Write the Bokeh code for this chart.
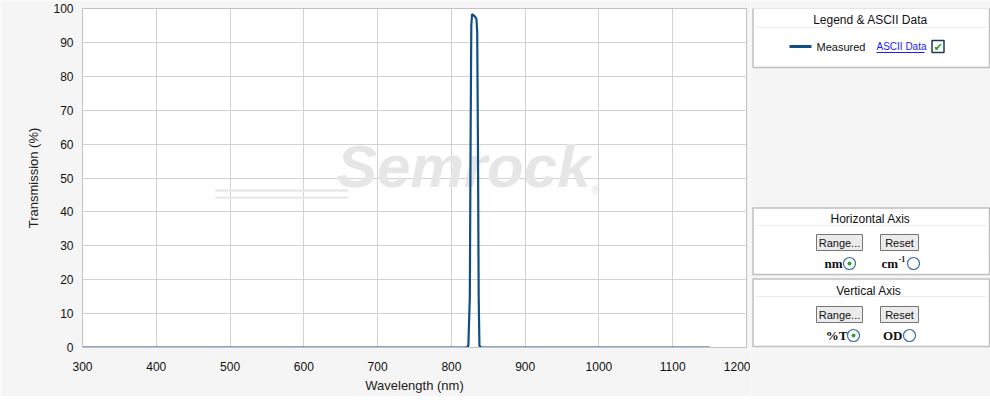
from bokeh.plotting import figure
from bokeh.models import Range1d, FixedTicker, Label, BoxAnnotation
from bokeh.layouts import row
from bokeh.core.properties import value
from bokeh.embed import file_html
from bokeh.resources import INLINE

# ---- data ----
wavelength = [300, 820, 823, 825, 826, 827, 828, 830, 832, 834, 835, 836, 837, 838, 841, 1150]
transmission = [0, 0, 0.5, 15, 60, 95, 98.3, 98.0, 97.6, 96.8, 93, 60, 15, 0.5, 0, 0]
x_ticks = [300, 400, 500, 600, 700, 800, 900, 1000, 1100, 1200]
y_ticks = [0, 10, 20, 30, 40, 50, 60, 70, 80, 90, 100]
series_name = "Measured"

FONT = "Liberation Sans"
LINE_COLOR = "#0f4f86"
GRID = "#d2d2d2"
BG = "#f5f5f5"

p = figure(width=750, height=396, x_range=Range1d(300, 1200), y_range=Range1d(0, 100),
           output_backend="svg", toolbar_location=None,
           min_border_left=82, min_border_right=4, min_border_top=8, min_border_bottom=49,
           background_fill_color="white", border_fill_color=BG,
           outline_line_color="#c2c2c2")

# watermark
p.add_layout(Label(x=645, y=43.5, text="Semrock", text_font=FONT, text_font_size="60px",
                   text_font_style="bold italic", text_color="#e6e6e6", level="underlay"))
p.add_layout(Label(x=990, y=44.8, text="®", text_font=FONT, text_font_size="11px",
                   text_color="#e2e2e2", level="underlay"))
for yy in (46.3, 44.2):
    p.add_layout(BoxAnnotation(left=480, right=660, bottom=yy - 0.35, top=yy + 0.35,
                               fill_color="#e8e8e8", fill_alpha=1, line_color=None,
                               level="underlay"))

p.line(wavelength, transmission, line_color=LINE_COLOR, line_width=2.2)

for ax in (p.xaxis[0], p.yaxis[0]):
    ax.major_tick_line_color = None
    ax.minor_tick_line_color = None
    ax.axis_line_color = "#c2c2c2"
    ax.major_label_text_font = FONT
    ax.major_label_text_font_size = "12px"
    ax.major_label_text_color = "#111111"
    ax.axis_label_text_font = FONT
    ax.axis_label_text_font_size = "13px"
    ax.axis_label_text_font_style = "normal"
    ax.axis_label_text_color = "#222222"

p.xaxis.ticker = FixedTicker(ticks=x_ticks)
p.yaxis.ticker = FixedTicker(ticks=y_ticks)
p.xaxis.axis_label = "Wavelength (nm)"
p.yaxis.axis_label = "Transmission (%)"
p.xaxis.major_label_standoff = 8
p.yaxis.major_label_standoff = 3
p.xaxis.axis_label_standoff = 4
p.yaxis.axis_label_standoff = 9
p.xgrid.ticker = FixedTicker(ticks=x_ticks)
p.ygrid.ticker = FixedTicker(ticks=y_ticks)
p.xgrid.grid_line_color = GRID
p.ygrid.grid_line_color = GRID

# ---- right-hand control panels (page pixel coordinates) ----
q = figure(frame_width=240, frame_height=396, x_range=Range1d(750, 990), y_range=Range1d(405, 9),
           x_axis_location=None, y_axis_location=None, title_location=None,
           output_backend="svg", toolbar_location=None, min_border=0,
           background_fill_color=BG, border_fill_color=BG, outline_line_color=None)
q.grid.visible = False

# boxes
q.quad(left=[752.5, 752.5, 752.5], right=[989, 989, 989], top=[8.5, 208.5, 279.5],
       bottom=[68, 275, 347], fill_color="white", line_color="#c0c0c0", line_width=1.5)
# faint separators under titles
q.segment(x0=[755, 755, 755], x1=[986, 986, 986], y0=[28, 226, 297], y1=[28, 226, 297],
          line_color="#ececec", line_width=1)

def txt(x, y, s, size="12px", color="#111111", style="normal", font=FONT, align="center"):
    q.text(x=[x], y=[y], text=[s], text_font=value(font), text_font_size=size,
           text_color=color, text_font_style=style, text_align=align, text_baseline="middle")

txt(870, 20, "Legend & ASCII Data", size="12px")
txt(870, 219, "Horizontal Axis", size="12px")
txt(870, 291, "Vertical  Axis", size="12px")

# legend entry
q.line(x=[789, 811], y=[47, 47], line_color=LINE_COLOR, line_width=3)
txt(816, 47, series_name, size="11px", align="left")
txt(876, 47, "ASCII Data", size="10px", color="#1a1aff", align="left")
q.segment(x0=[876], x1=[924], y0=[53], y1=[53], line_color="#1a1aff", line_width=1)
q.quad(left=[931.5], right=[943.5], top=[41], bottom=[53], fill_color="white",
       line_color="#1e3a5a", line_width=1.5)
txt(937.5, 47.5, "✔", size="11px", color="#22a022", font="DejaVu Sans")

# buttons
q.quad(left=[816, 880, 816, 880], right=[862, 918, 862, 918], top=[235, 235, 307, 307],
       bottom=[251, 251, 323, 323], fill_color="#ebebeb", line_color="#767676", line_width=1)
txt(839, 243, "Range...", size="11px")
txt(899, 243, "Reset", size="11px")
txt(839, 315, "Range...", size="11px")
txt(899, 315, "Reset", size="11px")

# radio labels
txt(842, 264, "nm", size="13px", style="bold", font="Liberation Serif", align="right")
txt(881, 264, "cm", size="13px", style="bold", font="Liberation Serif", align="left")
txt(898, 259, "-1", size="8px", style="bold", font="Liberation Serif", align="left")
txt(847, 336, "%T", size="13px", style="bold", font="Liberation Serif", align="right")
txt(902, 336, "OD", size="13px", style="bold", font="Liberation Serif", align="right")

# radio buttons
q.scatter(x=[849, 913, 853, 909], y=[264, 264, 336, 336], size=12, marker="circle",
          fill_color="white", line_color="#3d6da0", line_width=1.2)
q.scatter(x=[849, 853], y=[264, 336], size=4, marker="circle",
          fill_color="#2fa02f", line_color=None)

layout = row(p, q)
open("out.html", "w").write(file_html(layout, INLINE))
